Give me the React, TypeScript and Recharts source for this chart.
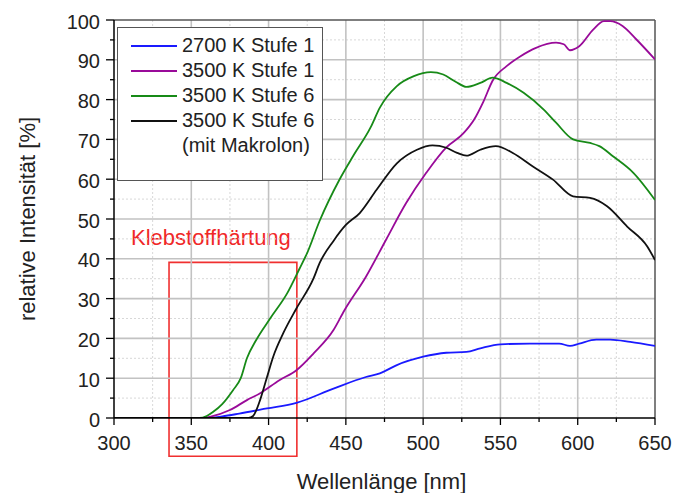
import {
  Label,
  Legend,
  Line,
  LineChart,
  ReferenceArea,
  ReferenceLine,
  XAxis,
  YAxis,
} from "recharts";

// Wellenlänge [nm] / relative Intensität [%] per measurement
const blueWl = [300, 360, 370, 381, 399, 418, 442, 463, 472, 483, 500, 515, 528, 537, 550, 569, 588, 595, 601, 612, 621, 634, 650];
const blueVal = [0, 0, 0.4, 1.1, 2.4, 3.8, 7.4, 10.3, 11.2, 13.3, 15.4, 16.4, 16.6, 17.5, 18.5, 18.7, 18.7, 18.1, 18.7, 19.7, 19.7, 19.1, 18.1];

const purpleWl = [300, 355, 362, 375, 386, 394, 407, 418, 429, 442, 449, 463, 476, 489, 502, 515, 526, 533, 539, 545, 554, 563, 573, 586, 591, 595, 601, 610, 617, 621, 629, 638, 650];
const purpleVal = [0, 0, 0.3, 2, 4.5, 6.1, 9.5, 12, 16.2, 22.1, 27, 35.5, 44.8, 54, 61.6, 68, 71.5, 75, 79.5, 84.8, 88.4, 90.9, 93, 94.3, 93.9, 92.4, 93.4, 97.6, 99.7, 99.7, 98.5, 95.1, 90.1];

const greenWl = [300, 355, 360, 364, 370, 377, 382, 386, 392, 401, 412, 420, 425, 433, 446, 455, 466, 472, 483, 494, 505, 513, 521, 528, 537, 545, 554, 565, 578, 586, 597, 608, 614, 623, 636, 650];
const greenVal = [0, 0, 0.5, 1.5, 3.5, 7, 10, 15, 19.6, 25, 31.3, 37.5, 41.5, 49.5, 60, 66, 73, 78, 83.4, 85.9, 86.9, 86.3, 84.5, 83.2, 84.2, 85.5, 84.2, 81.7, 77.5, 74.2, 70, 69.1, 68.3, 65.7, 61.6, 54.8];

const blackWl = [300, 387, 390, 392, 394.5, 399, 403, 409.5, 418, 429, 433, 442, 450, 459, 470, 483, 496, 506, 515, 522, 528, 537, 547, 558, 571, 584, 597, 608, 619, 632, 645, 650];
const blackVal = [0, 0, 0.5, 1.9, 4.5, 10.3, 15.4, 21.3, 27.5, 35, 38.9, 44.5, 48.5, 51.5, 57.4, 64, 67.4, 68.5, 67.9, 66.6, 65.9, 67.4, 68.3, 66.6, 63.2, 59.9, 55.7, 55.3, 53.2, 48.1, 43.1, 39.7];

const xTicks = [300, 325, 350, 375, 400, 425, 450, 475, 500, 525, 550, 575, 600, 625, 650];
const yTicks = [0, 5, 10, 15, 20, 25, 30, 35, 40, 45, 50, 55, 60, 65, 70, 75, 80, 85, 90, 95, 100];
const xMajor = [350, 400, 450, 500, 550, 600];
const yMajor = [10, 20, 30, 40, 50, 60, 70, 80, 90];
const xMinor = [325, 375, 425, 475, 525, 575, 625];
const yMinor = [5, 15, 25, 35, 45, 55, 65, 75, 85, 95];

const boxRange = { x1: 335.6, x2: 418.3, y1: -9.6, y2: 39.1 };

const font = "Liberation Sans, Arial, Helvetica, sans-serif";

const zip = (wl: number[], v: number[]) => wl.map((x, i) => ({ x, v: v[i] }));

const series = [
  { name: "2700 K Stufe 1", color: "#1a1aff", data: zip(blueWl, blueVal) },
  { name: "3500 K Stufe 1", color: "#990a99", data: zip(purpleWl, purpleVal) },
  { name: "3500 K Stufe 6", color: "#178a17", data: zip(greenWl, greenVal) },
  { name: "3500 K Stufe 6\n(mit Makrolon)", color: "#111111", data: zip(blackWl, blackVal) },
];

function XTick({ x, y, payload }: any) {
  const major = payload.value % 50 === 0;
  return (
    <g>
      <line x1={x} x2={x} y1={y} y2={y + (major ? 7 : 4)} stroke="#000" strokeWidth={1.3} />
      {major && (
        <text x={x} y={y + 32} textAnchor="middle" fontSize={20} fill="#222" fontFamily={font}>
          {payload.value}
        </text>
      )}
    </g>
  );
}

function YTick({ x, y, payload }: any) {
  const major = payload.value % 10 === 0;
  return (
    <g>
      <line x1={x - (major ? 8 : 4)} x2={x} y1={y} y2={y} stroke="#000" strokeWidth={1.3} />
      {major && (
        <text x={x - 14} y={y + 8.5} textAnchor="end" fontSize={20} fill="#222" fontFamily={font}>
          {payload.value}
        </text>
      )}
    </g>
  );
}

function LegendBox({ payload }: any) {
  return (
    <div
      style={{
        width: 206,
        height: 154,
        boxSizing: "border-box",
        border: "1px solid #555",
        background: "#fff",
        paddingTop: 5,
        fontFamily: font,
        fontSize: 20,
        color: "#222",
      }}
    >
      {(payload || []).map((p: any) => (
        <div key={p.value} style={{ display: "flex", alignItems: "flex-start", lineHeight: "25px" }}>
          <div style={{ width: 46, height: 0, borderTop: `2px solid ${p.color}`, marginLeft: 13, marginTop: 12, marginRight: 5 }} />
          <div style={{ whiteSpace: "pre-line" }}>{p.value}</div>
        </div>
      ))}
    </div>
  );
}

export default function App() {
  return (
    <div style={{ position: "absolute", left: 0, top: 0, width: 675, height: 493, background: "#fff", fontFamily: font }}>
      <LineChart width={675} height={493} margin={{ top: 20, right: 20, left: 0, bottom: 30 }}>
        {xMinor.map((v) => (
          <ReferenceLine key={`mx${v}`} x={v} stroke="#d8d8d8" strokeDasharray="2 2" strokeWidth={1} />
        ))}
        {yMinor.map((v) => (
          <ReferenceLine key={`my${v}`} y={v} stroke="#d8d8d8" strokeDasharray="2 2" strokeWidth={1} />
        ))}
        {xMajor.map((v) => (
          <ReferenceLine key={`gx${v}`} x={v} stroke="#c2c2c2" strokeWidth={1.6} />
        ))}
        {yMajor.map((v) => (
          <ReferenceLine key={`gy${v}`} y={v} stroke="#c2c2c2" strokeWidth={1.6} />
        ))}
        <XAxis
          dataKey="x"
          type="number"
          domain={[300, 650]}
          ticks={xTicks}
          interval={0}
          allowDataOverflow
          height={45}
          tickSize={0}
          tickMargin={0}
          tickLine={false}
          tick={<XTick />}
          axisLine={{ stroke: "#000", strokeWidth: 1.5 }}
        >
          <Label
            content={({ viewBox }: any) => (
              <text
                x={viewBox.x + viewBox.width / 2 - 3}
                y={viewBox.y + 71}
                textAnchor="middle"
                fontSize={22}
                fill="#222"
                fontFamily={font}
              >
                Wellenlänge [nm]
              </text>
            )}
          />
        </XAxis>
        <YAxis
          type="number"
          domain={[0, 100]}
          ticks={yTicks}
          interval={0}
          allowDataOverflow
          width={114}
          tickSize={0}
          tickMargin={0}
          tickLine={false}
          tick={<YTick />}
          axisLine={{ stroke: "#000", strokeWidth: 1.5 }}
        >
          <Label
            content={({ viewBox }: any) => {
              const cx = viewBox.x + 27;
              const cy = viewBox.y + viewBox.height / 2;
              return (
                <text
                  x={cx}
                  y={cy}
                  transform={`rotate(-90 ${cx} ${cy})`}
                  textAnchor="middle"
                  dominantBaseline="central"
                  fontSize={22}
                  fill="#222"
                  fontFamily={font}
                >
                  relative Intensität [%]
                </text>
              );
            }}
          />
        </YAxis>
        <ReferenceLine y={100} stroke="#555" strokeWidth={1.5} />
        <ReferenceLine x={650} stroke="#555" strokeWidth={1.5} />
        {series.map((s) => (
          <Line
            key={s.name}
            data={s.data}
            dataKey="v"
            name={s.name}
            type="monotone"
            stroke={s.color}
            strokeWidth={1.8}
            dot={false}
            activeDot={false}
            isAnimationActive={false}
          />
        ))}
        <ReferenceArea
          {...boxRange}
          ifOverflow="visible"
          fill="none"
          fillOpacity={0}
          stroke="#f03030"
          strokeWidth={1.6}
          label={({ viewBox }: any) => (
            <text x={viewBox.x - 38} y={viewBox.y - 17} fontSize={22} fill="#f02828" fontFamily={font}>
              Klebstoffhärtung
            </text>
          )}
        />
        <Legend
          layout="vertical"
          align="center"
          verticalAlign="middle"
          content={<LegendBox />}
          wrapperStyle={{ position: "absolute", left: 117, top: 27, width: 206, height: 154 }}
        />
      </LineChart>
    </div>
  );
}
